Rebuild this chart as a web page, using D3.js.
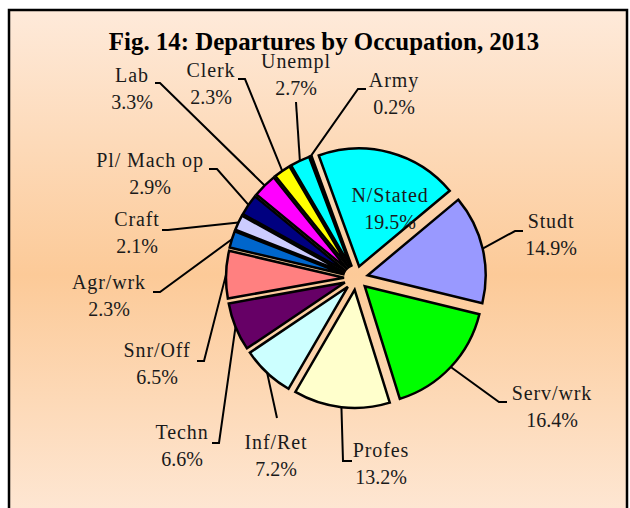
<!DOCTYPE html>
<html>
<head>
<meta charset="utf-8">
<script src="https://cdn.jsdelivr.net/npm/d3@7"></script>
<style>
  body { margin: 0; background: #fff; }
  svg { display: block; }
</style>
</head>
<body>
<div id="graf"></div>
<script>
const titulo = 'Fig. 14: Departures by Occupation, 2013'

// clockwise, starting with N/Stated
const categorias = ['N/Stated', 'Studt', 'Serv/wrk', 'Profes', 'Inf/Ret', 'Techn', 'Snr/Off',
  'Agr/wrk', 'Craft', 'Pl/ Mach op', 'Lab', 'Clerk', 'Unempl', 'Army']
const porcentajes = [19.5, 14.9, 16.4, 13.2, 7.2, 6.6, 6.5, 2.3, 2.1, 2.9, 3.3, 2.3, 2.7, 0.2]
const colores = ['#00ffff', '#9999ff', '#00ff00', '#ffffcc', '#ccffff', '#660066', '#ff8080',
  '#0066cc', '#ccccff', '#000080', '#ff00ff', '#ffff00', '#00ffff', '#000000']

// where each label sits (text x, first baseline) and where its leader leaves it
const etiquetas = [
  { x: 390, y: 202 },
  { x: 551, y: 228, sx: 523, sy: 231, ex: 515, ey: 231 },
  { x: 552, y: 400, sx: 507, sy: 402, ex: 499, ey: 402 },
  { x: 381, y: 457, sx: 352, sy: 461, ex: 343, ey: 461 },
  { x: 276, y: 449, sx: 277, sy: 418, ex: 277, ey: 418 },
  { x: 182, y: 439, sx: 212, sy: 443, ex: 219, ey: 443 },
  { x: 157, y: 357, sx: 197, sy: 361, ex: 204, ey: 361 },
  { x: 109, y: 289, sx: 153, sy: 292, ex: 160, ey: 292 },
  { x: 137, y: 226, sx: 162, sy: 230, ex: 168, ey: 230 },
  { x: 150, y: 167, sx: 209, sy: 169, ex: 217, ey: 169 },
  { x: 132, y: 82, sx: 155, sy: 83, ex: 160, ey: 83 },
  { x: 211, y: 77, sx: 238, sy: 79, ex: 245, ey: 79 },
  { x: 296, y: 68, sx: 296, sy: 102, ex: 296, ey: 102 },
  { x: 394, y: 87, sx: 366, sy: 89, ex: 358, ey: 89 },
]

const ancho = 630
const alto = 508
const centro = { x: 356, y: 278 }
const radio = 118
const separacion = 12

const svg = d3.select('#graf')
  .append('svg')
  .attr('width', ancho)
  .attr('height', alto)

const grad = svg.append('defs')
  .append('linearGradient')
  .attr('id', 'fondo')
  .attr('x1', 0).attr('y1', 0)
  .attr('x2', 0).attr('y2', 1)
grad.append('stop').attr('offset', '0%').attr('stop-color', '#feeada')
grad.append('stop').attr('offset', '50%').attr('stop-color', '#fcca98')
grad.append('stop').attr('offset', '100%').attr('stop-color', '#feeada')

svg.append('rect')
  .attr('x', 9)
  .attr('y', 10)
  .attr('width', 618)
  .attr('height', 530)
  .attr('fill', 'url(#fondo)')
  .attr('stroke', '#000')
  .attr('stroke-width', 2.5)

const tit = svg.append('text')
  .attr('x', 324)
  .attr('y', 50)
  .attr('text-anchor', 'middle')
  .style('font-family', '"Liberation Serif", serif')
  .style('font-weight', 'bold')
  .style('font-size', '24px')
  .attr('fill', '#000')
  .text(titulo)
// fit to the width of the original title
const largo = tit.node().getComputedTextLength()
tit.style('font-size', `${(24 * 430 / largo).toFixed(1)}px`)

const pie = d3.pie()
  .sort(null)
  .value(d => d)
  .startAngle(-20 * Math.PI / 180)
  .endAngle(340 * Math.PI / 180)

const arco = d3.arc()
  .innerRadius(0)
  .outerRadius(radio)

const rebanadas = pie(porcentajes)

const medio = d => (d.startAngle + d.endAngle) / 2
const desplazar = d => ({
  x: centro.x + separacion * Math.sin(medio(d)),
  y: centro.y - separacion * Math.cos(medio(d)),
})

const g = svg.append('g')

g.selectAll('path')
  .data(rebanadas)
  .enter()
  .append('path')
  .attr('d', arco)
  .attr('transform', d => {
    const p = desplazar(d)
    return `translate(${p.x}, ${p.y})`
  })
  .attr('fill', (d, i) => colores[i])
  .attr('stroke', '#000')
  .attr('stroke-width', 2.5)

// leader lines
const linea = d3.line()
rebanadas.forEach((d, i) => {
  const e = etiquetas[i]
  if (e.sx === undefined) return
  const p = desplazar(d)
  const borde = [p.x + radio * Math.sin(medio(d)), p.y - radio * Math.cos(medio(d))]
  svg.append('path')
    .attr('d', linea([[e.sx, e.sy], [e.ex, e.ey], borde]))
    .attr('fill', 'none')
    .attr('stroke', '#000')
    .attr('stroke-width', 2)
})

const textos = svg.append('g')
  .style('font-family', '"Liberation Serif", serif')
  .style('font-size', '20px')
  .attr('fill', '#1a1a1a')
  .attr('text-anchor', 'middle')

categorias.forEach((c, i) => {
  const e = etiquetas[i]
  textos.append('text')
    .attr('x', e.x)
    .attr('y', e.y)
    .style('letter-spacing', '0.9px')
    .text(c)
  textos.append('text')
    .attr('x', e.x)
    .attr('y', e.y + 27)
    .text(`${porcentajes[i].toFixed(1)}%`)
})
</script>
</body>
</html>
